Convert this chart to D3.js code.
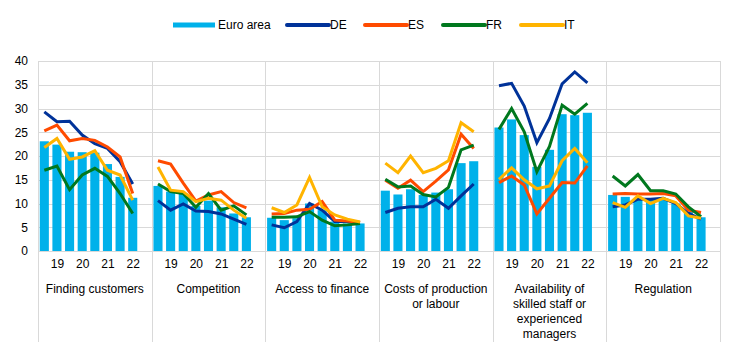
<!DOCTYPE html>
<html>
<head>
<meta charset="utf-8">
<script src="https://cdn.jsdelivr.net/npm/d3@7"></script>
<style>
  html, body { margin: 0; padding: 0; background: #fff; }
  svg { display: block; font-family: "Liberation Sans", Arial, sans-serif; }
</style>
</head>
<body>
<svg id="chart" width="744" height="350"></svg>
<script>
// Obstacles reported by firms, share of respondents (%), by survey round
const categories = [
  ["Finding customers"],
  ["Competition"],
  ["Access to finance"],
  ["Costs of production", "or labour"],
  ["Availability of", "skilled staff or", "experienced", "managers"],
  ["Regulation"]
];
const periods = ["18H2", "19H1", "19H2", "20H1", "20H2", "21H1", "21H2", "22H1"];
const periodLabels = ["", "19", "", "20", "", "21", "", "22"];
const yTicks = [0, 5, 10, 15, 20, 25, 30, 35, 40];

const euroArea = [
  [23.1, 22.4, 20.9, 20.8, 20.7, 18.3, 15.6, 11.2],
  [13.7, 12.5, 12.1, 9.5, 10.6, 9.2, 7.9, 7.1],
  [7.0, 6.5, 6.9, 10.0, 8.6, 6.2, 5.8, 5.8],
  [12.7, 11.9, 13.0, 11.8, 12.3, 13.0, 18.5, 18.9],
  [26.0, 27.7, 24.4, 17.7, 21.3, 28.8, 28.6, 29.1],
  [11.8, 11.4, 10.7, 10.9, 10.9, 10.0, 8.3, 7.1]
];
const de = [
  [29.3, 27.2, 27.3, 24.4, 22.6, 21.6, 18.8, 14.1],
  [10.6, 8.6, 9.9, 8.4, 8.3, 7.8, 6.7, 5.6],
  [5.5, 4.9, 6.2, 10.0, 8.6, 6.2, 6.2, 6.0],
  [8.1, 9.0, 9.3, 9.3, 10.9, 9.0, 11.6, 14.1],
  [34.8, 35.3, 30.5, 22.8, 27.9, 35.2, 37.7, 35.4],
  [9.3, 9.7, 10.9, 10.9, 11.1, 10.0, 7.9, 6.7]
];
const es = [
  [25.3, 26.5, 23.2, 23.7, 23.3, 21.9, 19.8, 12.1],
  [19.0, 18.3, 14.3, 10.5, 11.8, 12.5, 10.2, 9.1],
  [7.8, 7.9, 8.6, 8.8, 10.4, 6.5, 6.3, 6.0],
  [14.9, 13.2, 14.9, 12.5, 14.7, 17.1, 24.6, 21.6],
  [14.4, 15.8, 13.9, 7.8, 11.1, 14.4, 14.3, 17.9],
  [12.0, 12.1, 12.0, 12.0, 12.1, 11.6, 8.6, 8.1]
];
const fr = [
  [17.0, 17.9, 12.9, 16.0, 17.4, 15.7, 12.1, 7.9],
  [14.1, 12.5, 12.1, 9.2, 12.1, 8.6, 9.5, 7.6],
  [7.1, 7.1, 7.2, 8.3, 6.5, 5.3, 5.5, 5.8],
  [15.1, 13.5, 13.7, 11.9, 11.4, 13.4, 21.3, 22.3],
  [25.6, 30.0, 25.1, 16.7, 22.0, 30.7, 28.8, 31.1],
  [15.8, 13.7, 16.1, 12.7, 12.7, 12.0, 9.3, 7.2]
];
const it = [
  [21.8, 23.7, 19.3, 19.8, 21.1, 17.0, 16.0, 10.7],
  [17.7, 12.8, 12.5, 10.4, 11.1, 10.7, 8.6, 6.9],
  [9.1, 8.1, 9.7, 15.5, 9.3, 7.6, 6.7, 6.1],
  [18.5, 16.5, 20.0, 16.5, 17.4, 19.0, 27.0, 25.1],
  [15.1, 17.5, 15.0, 13.1, 13.7, 19.0, 21.6, 18.6],
  [10.2, 9.2, 11.6, 10.0, 11.1, 10.2, 7.4, 6.9]
];

const lineSeries = [
  { name: "DE", color: "#003299", values: de },
  { name: "ES", color: "#FF4B00", values: es },
  { name: "FR", color: "#00781E", values: fr },
  { name: "IT", color: "#FFB400", values: it }
];
const barColor = "#00B1EA";
const gridColor = "#D9D9D9";

const svg = d3.select("#chart");
const plot = { left: 38, right: 720, top: 61, bottom: 251 };

// One band per obstacle, each split into 9 slots (8 rounds + a spacer)
const panel = d3.scaleBand()
  .domain(d3.range(categories.length))
  .range([plot.left, plot.right]);
const slot = d3.scaleBand()
  .domain(d3.range(periods.length + 1))
  .range([0, panel.bandwidth()])
  .paddingInner(0.28)
  .paddingOuter(0.14);
const y = d3.scaleLinear().domain([0, 40]).range([plot.bottom, plot.top]);

// Horizontal gridlines
svg.append("g")
  .selectAll("line")
  .data(yTicks)
  .join("line")
  .attr("x1", plot.left).attr("x2", plot.right)
  .attr("y1", d => Math.round(y(d)) + 0.5).attr("y2", d => Math.round(y(d)) + 0.5)
  .attr("stroke", gridColor).attr("stroke-width", 1);

// Y axis labels
const yAxis = d3.axisLeft(y).tickValues(yTicks).tickSize(0).tickPadding(10);
svg.append("g")
  .attr("transform", `translate(${plot.left},0)`)
  .call(yAxis)
  .call(g => g.select(".domain").remove())
  .call(g => g.selectAll("text")
    .attr("font-size", 12)
    .attr("font-family", "Liberation Sans, Arial, sans-serif")
    .attr("fill", "#000"));

// Panel separators running down through the label area
const seps = d3.range(categories.length + 1).map(i =>
  i < categories.length ? panel(i) : plot.right);
svg.append("g")
  .selectAll("line")
  .data(seps)
  .join("line")
  .attr("x1", d => Math.round(d) + 0.5).attr("x2", d => Math.round(d) + 0.5)
  .attr("y1", plot.top).attr("y2", 342)
  .attr("stroke", gridColor).attr("stroke-width", 1);

const line = d3.line()
  .x((d, i) => slot(i) + slot.bandwidth() / 2)
  .y(d => y(d));

categories.forEach((cat, ci) => {
  const g = svg.append("g").attr("transform", `translate(${panel(ci)},0)`);

  g.selectAll("rect")
    .data(euroArea[ci])
    .join("rect")
    .attr("x", (d, i) => slot(i))
    .attr("width", slot.bandwidth())
    .attr("y", d => y(d))
    .attr("height", d => y(0) - y(d))
    .attr("fill", barColor);

  lineSeries.forEach(s => {
    g.append("path")
      .datum(s.values[ci])
      .attr("d", line)
      .attr("fill", "none")
      .attr("stroke", s.color)
      .attr("stroke-width", 3)
      .attr("stroke-linejoin", "miter");
  });

  // Year ticks under the bars
  const xAxis = d3.axisBottom(
      d3.scaleOrdinal().domain(periods).range(periods.map((p, i) => slot(i) + slot.bandwidth() / 2)))
    .tickSize(0).tickPadding(8)
    .tickFormat((d, i) => periodLabels[i]);
  g.append("g")
    .attr("transform", `translate(0,${plot.bottom})`)
    .call(xAxis)
    .call(a => a.select(".domain").remove())
    .call(a => a.selectAll("text")
      .attr("font-size", 12)
      .attr("font-family", "Liberation Sans, Arial, sans-serif")
      .attr("fill", "#000"));

  // Category name
  g.append("text")
    .attr("x", panel.bandwidth() / 2)
    .attr("y", 293)
    .attr("text-anchor", "middle")
    .attr("font-size", 12)
    .attr("fill", "#000")
    .selectAll("tspan")
    .data(cat)
    .join("tspan")
    .attr("x", panel.bandwidth() / 2)
    .attr("dy", (d, i) => i === 0 ? 0 : 15)
    .text(d => d);
});

// Legend
const legendItems = [
  { name: "Euro area", color: barColor, w: 5, x: 173 },
  { name: "DE", color: lineSeries[0].color, w: 4, x: 287 },
  { name: "ES", color: lineSeries[1].color, w: 4, x: 365 },
  { name: "FR", color: lineSeries[2].color, w: 4, x: 443 },
  { name: "IT", color: lineSeries[3].color, w: 4, x: 521 }
];
const legend = svg.append("g");
legendItems.forEach(it => {
  legend.append("line")
    .attr("x1", it.x).attr("x2", it.x + 42)
    .attr("y1", 25).attr("y2", 25)
    .attr("stroke", it.color).attr("stroke-width", it.w)
    .attr("stroke-linecap", it.name === "Euro area" ? "butt" : "round");
  legend.append("text")
    .attr("x", it.x + (it.name === "Euro area" ? 45 : 43))
    .attr("y", 29)
    .attr("font-size", 12)
    .attr("fill", "#000")
    .text(it.name);
});
</script>
</body>
</html>
